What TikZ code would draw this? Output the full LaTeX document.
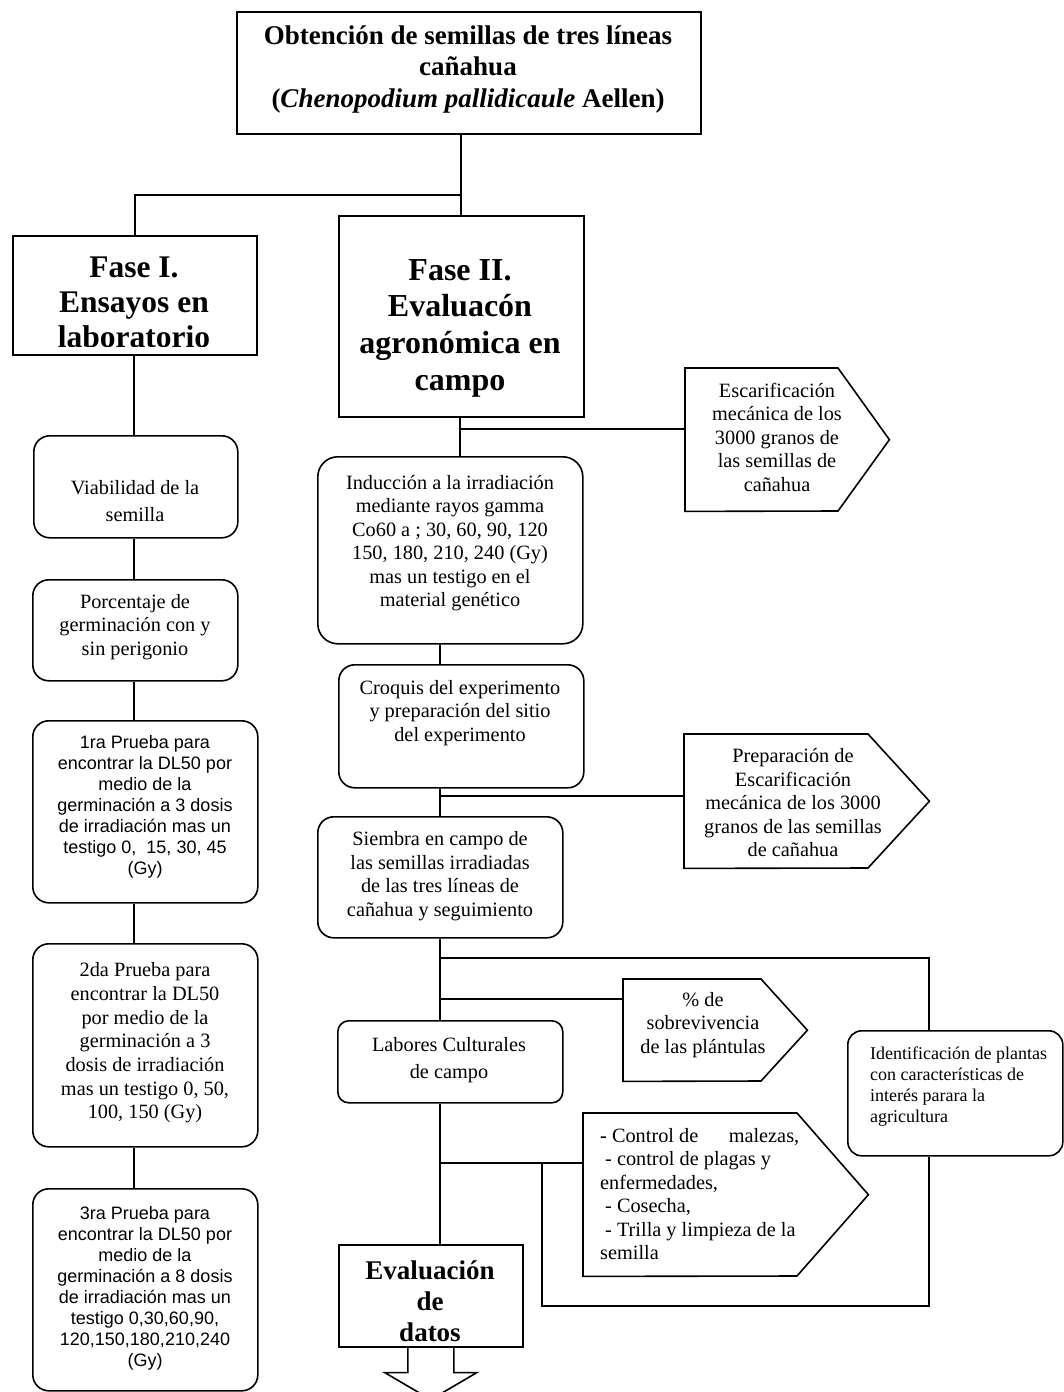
\documentclass[tikz,border=0pt]{standalone}
\usepackage{fontspec}
\setmainfont{Liberation Serif}
\newfontfamily\arialf{Liberation Sans}
\usetikzlibrary{calc}
\newcommand\mybox[6]{\node[#1, anchor=north west, minimum width={(#5-#3)*1pt}, minimum height={(#6-#4)*1pt}] (#2) at (#3,#4) {};}
\newcommand\mypent[6]{\node[inner sep=0pt, anchor=north west, minimum width={(#4-#2)*1pt}, minimum height={(#5-#3)*1pt}] (#1) at (#2,#3) {};
\draw[ln] (#1.north west) -- (#6,#3) -- (#1.east) -- (#6,#5) -- (#1.south west) -- cycle;}
\begin{document}
\begin{tikzpicture}[x=1pt,y=-1pt,
  ln/.style={line width=1.6pt},
  frame/.style={draw, line width=1.6pt, rectangle, inner sep=0pt},
  rframe/.style={frame, rounded corners=#1},
  rframe/.default=16pt,
  tx/.style={align=center, inner sep=0pt, font=\fontsize{20.3}{23.5}\selectfont},
  txw/.style={tx, font=\fontsize{20.3}{27}\selectfont},
  txs/.style={tx, font=\arialf\fontsize{18}{21}\selectfont},
  txi/.style={tx, font=\fontsize{18}{21}\selectfont},
  txt/.style={tx, font=\bfseries\fontsize{27}{31.5}\selectfont},
  txfa/.style={tx, font=\bfseries\fontsize{31.5}{35}\selectfont},
  txfb/.style={tx, font=\bfseries\fontsize{32}{36.7}\selectfont},
  txe/.style={tx, font=\bfseries\fontsize{27}{31}\selectfont},
]
\useasboundingbox (0,0) rectangle (1064,1392);
\fill[white] (0,0) rectangle (1064,1392);

% boxes
\mybox{frame}{title}{236}{11}{700}{133}
\mybox{frame}{fase1}{12}{235}{256}{354}
\mybox{frame}{fase2}{338}{215}{583}{416}
\mybox{rframe}{viab}{33}{435}{237}{537}
\mybox{rframe}{porc}{32}{579}{237}{680}
\mybox{rframe}{pa}{32}{720}{257}{902}
\mybox{rframe}{pb}{32}{943}{257}{1146}
\mybox{rframe}{pc}{32}{1188}{257}{1390}
\mybox{rframe=20pt}{ind}{317}{456}{582}{643}
\mybox{rframe}{croq}{338}{664}{583}{787}
\mybox{rframe}{siem}{317}{816}{562}{937}
\mybox{rframe=11pt}{lab}{337}{1020}{562}{1102}
\mybox{frame}{eval}{338}{1244}{522}{1346}
\mybox{rframe=14pt}{ident}{847}{1030}{1062}{1155}
\mypent{esc}{685}{368}{889}{511}{838}
\mypent{prep}{684}{734}{929}{868}{868}
\mypent{pct}{623}{979}{807}{1081}{761}
\mypent{ctrl}{583}{1113}{868}{1276}{797}

% texts
\node[txt] (titlet) at (468,69) {Obtención de semillas de tres líneas\\cañahua\\(\textit{Chenopodium pallidicaule} Aellen)};
\begin{scope}
\clip (12,235) rectangle (256,346);
\node[txfa] (fase1t) at (134,302) {Fase I.\\Ensayos en\\laboratorio};
\end{scope}
\node[txfb] (fase2t) at (460,328) {Fase II.\\Evaluacón\\agronómica en\\campo};
\node[txw] (viabt) at (135,501) {Viabilidad de la\\semilla};
\node[tx] (porct) at (135,627) {Porcentaje de\\germinación con y\\sin perigonio};
\node[txs] (pat) at (145,807) {1ra Prueba para\\encontrar la DL50 por\\medio de la\\germinación a 3 dosis\\de irradiación mas un\\testigo 0,\ \ 15, 30, 45\\(Gy)};
\node[tx, font=\fontsize{20.3}{23.7}\selectfont] (pbt) at (145,1043) {2da Prueba para\\encontrar la DL50\\por medio de la\\germinación a 3\\dosis de irradiación\\mas un testigo 0, 50,\\100, 150 (Gy)};
\node[txs] (pct3) at (145,1288) {3ra Prueba para\\encontrar la DL50 por\\medio de la\\germinación a 8 dosis\\de irradiación mas un\\testigo 0,30,60,90,\\120,150,180,210,240\\(Gy)};
\node[tx] (indt) at (450,543) {Inducción a la irradiación\\mediante rayos gamma\\Co60 a ; 30, 60, 90, 120\\150, 180, 210, 240 (Gy)\\mas un testigo en el\\material genético};
\node[tx] (croqt) at (460,713) {Croquis del experimento\\y preparación del sitio\\del experimento};
\node[tx] (siemt) at (440,876) {Siembra en campo de\\las semillas irradiadas\\de las tres líneas de\\cañahua y seguimiento};
\node[txw] (labt) at (449,1060) {Labores Culturales\\de campo};
\node[txe] (evalt) at (430,1301) {Evaluación\\de\\datos};
\node[tx] (esct) at (777,437) {Escarificación\\mecánica de los\\3000 granos de\\las semillas de\\cañahua};
\node[tx] (prept) at (793,803) {Preparación de\\Escarificación\\mecánica de los 3000\\granos de las semillas\\de cañahua};
\node[tx] (pctt) at (703,1025) {\% de\\sobrevivencia\\de las plántulas};
\node[txi, align=left, anchor=west] (identt) at (870,1087) {Identificación de plantas\\con características de\\interés parara la\\agricultura};
\node[tx, align=left, anchor=west] (ctrlt) at (600,1194) {\makebox[199pt][l]{\textbf{-} Control de\hfill malezas,}\\\hspace*{5pt}- control de plagas y\\enfermedades,\\\hspace*{5pt}- Cosecha,\\\hspace*{5pt}- Trilla y limpieza de la\\semilla};

% connectors
\coordinate (j1) at (461,195);
\draw[ln] (j1 |- title.south) -- (j1 |- fase2.north);
\draw[ln] (j1) -| (fase1.north);
\coordinate (cl) at (134,0);
\draw[ln] (cl |- fase1.south) -- (cl |- viab.north);
\draw[ln] (cl |- viab.south) -- (cl |- porc.north);
\draw[ln] (cl |- porc.south) -- (cl |- pa.north);
\draw[ln] (cl |- pa.south) -- (cl |- pb.north);
\draw[ln] (cl |- pb.south) -- (cl |- pc.north);
\coordinate (c2) at (460,0);
\draw[ln] (c2 |- fase2.south) -- (c2 |- ind.north);
\coordinate (b1) at (460,429);
\draw[ln] (b1) -- (b1 -| esc.west);
\coordinate (c3) at (440,0);
\draw[ln] (c3 |- ind.south) -- (c3 |- croq.north);
\draw[ln] (c3 |- croq.south) -- (c3 |- siem.north);
\coordinate (b2) at (440,796);
\draw[ln] (b2) -- (b2 -| prep.west);
\draw[ln] (c3 |- siem.south) -- (c3 |- lab.north);
\coordinate (b3) at (440,958);
\coordinate (c4) at (929,0);
\draw[ln] (b3) -| (c4 |- ident.north);
\coordinate (b4) at (440,999);
\draw[ln] (b4) -- (b4 -| pct.west);
\draw[ln] (c3 |- lab.south) -- (c3 |- eval.north);
\coordinate (b5) at (440,1163);
\draw[ln] (b5) -- (b5 -| ctrl.west);
\coordinate (b6) at (542,1163);
\coordinate (b7) at (542,1306);
\draw[ln] (b6) -- (b7) -| (c4 |- ident.south);

% output arrow below the evaluation box
\begin{scope}
\clip (0,0) rectangle (1064,1392);
\draw[ln] ($(eval.south)+(-23,0)$) -- ++(0,25) -- ++(-23,0) -- ++(46,27) -- ++(46,-27) -- ++(-23,0) -- ++(0,-25);
\end{scope}
\end{tikzpicture}
\end{document}
